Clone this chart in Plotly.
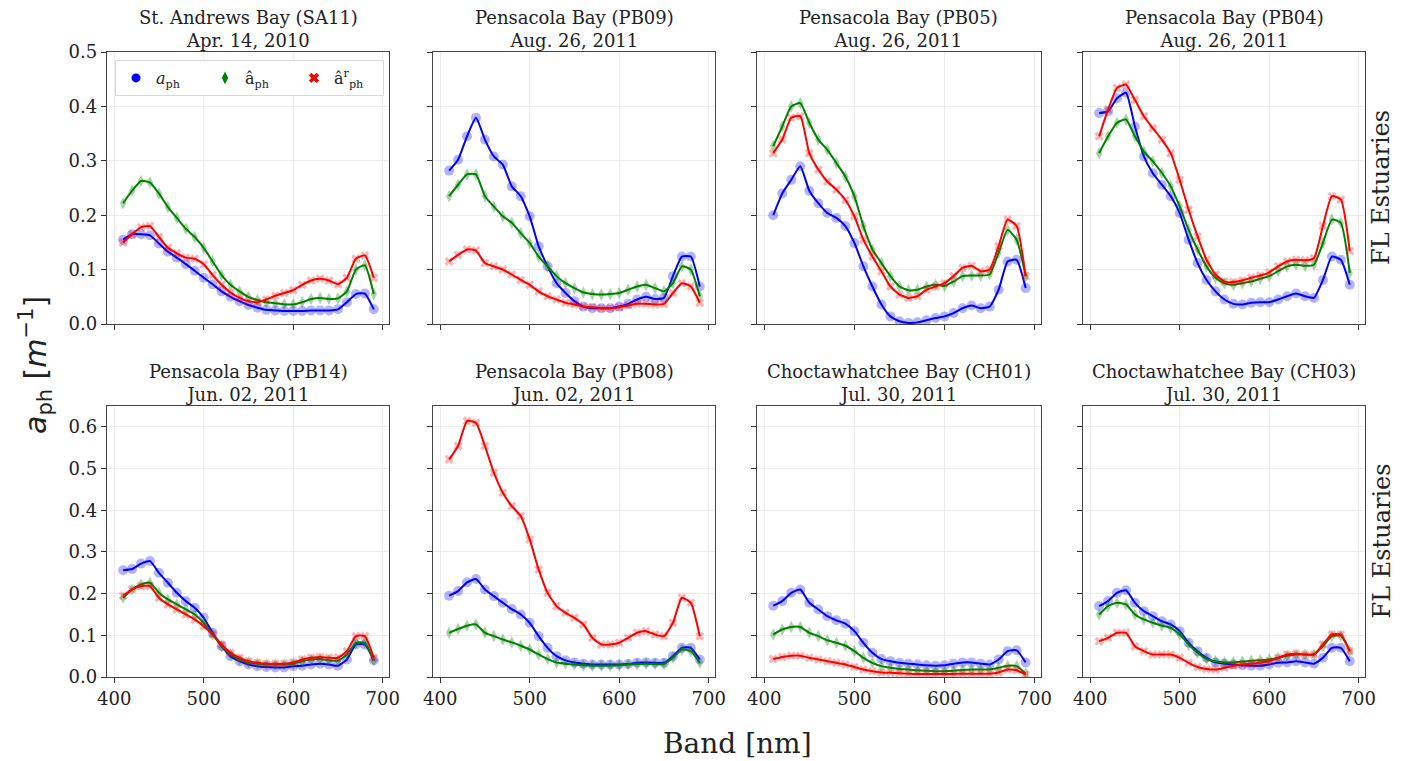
import plotly.graph_objects as go
from plotly.subplots import make_subplots

# Wavelength bands (nm)
bands = [410, 420, 430, 440, 450, 460, 470, 480, 490, 500, 510, 520, 530, 540, 550,
         560, 570, 580, 590, 600, 610, 620, 630, 640, 650, 660, 670, 680, 690]

# Panel titles
stations = ["St. Andrews Bay (SA11)", "Pensacola Bay (PB09)", "Pensacola Bay (PB05)", "Pensacola Bay (PB04)",
            "Pensacola Bay (PB14)", "Pensacola Bay (PB08)", "Choctawhatchee Bay (CH01)", "Choctawhatchee Bay (CH03)"]
dates = ["Apr. 14, 2010", "Aug. 26, 2011", "Aug. 26, 2011", "Aug. 26, 2011",
         "Jun. 02, 2011", "Jun. 02, 2011", "Jul. 30, 2011", "Jul. 30, 2011"]

# a_ph (measured), a_ph hat (estimated), a_ph hat r (retrieved) per station
sa11_aph = [.155, .165, .165, .163, .148, .133, .122, .110, .098, .085, .073, .060, .050, .042, .035,
            .030, .026, .025, .024, .024, .024, .025, .025, .025, .027, .040, .055, .056, .027]
sa11_hat = [.222, .245, .263, .260, .240, .215, .195, .175, .160, .140, .115, .090, .072, .060, .050,
            .044, .040, .038, .036, .036, .040, .046, .048, .046, .047, .060, .100, .108, .055]
sa11_hat_r = [.150, .165, .178, .180, .160, .140, .130, .122, .120, .110, .090, .072, .058, .048, .042,
              .040, .045, .052, .057, .062, .072, .080, .083, .080, .073, .085, .120, .126, .085]

pb09_aph = [.282, .302, .345, .379, .339, .308, .293, .253, .235, .198, .143, .106, .075, .057, .042,
            .032, .029, .029, .029, .032, .037, .045, .050, .046, .048, .088, .124, .124, .069]
pb09_hat = [.235, .256, .275, .275, .235, .216, .198, .186, .167, .149, .124, .106, .088, .075, .066,
            .058, .055, .054, .055, .057, .063, .069, .072, .066, .060, .075, .106, .100, .051]
pb09_hat_r = [.115, .127, .137, .135, .112, .106, .100, .091, .081, .072, .060, .051, .045, .039, .036,
              .032, .031, .029, .029, .031, .034, .037, .037, .036, .037, .057, .075, .069, .039]

pb05_aph = [.200, .240, .265, .290, .245, .222, .204, .195, .180, .149, .106, .069, .036, .014, .005,
            .002, .003, .007, .011, .014, .020, .029, .034, .029, .032, .063, .115, .118, .066]
pb05_hat = [.327, .363, .400, .406, .370, .339, .320, .296, .271, .235, .180, .137, .112, .088, .069,
            .062, .063, .069, .072, .070, .078, .088, .089, .089, .091, .131, .173, .155, .088]
pb05_hat_r = [.314, .339, .379, .382, .314, .284, .262, .247, .228, .198, .155, .124, .097, .069, .054,
              .048, .051, .063, .069, .075, .088, .103, .107, .097, .100, .143, .192, .180, .088]

pb04_aph = [.388, .391, .415, .425, .363, .308, .277, .256, .235, .204, .155, .112, .081, .060, .045,
            .037, .036, .039, .040, .040, .045, .051, .056, .051, .048, .081, .124, .118, .072]
pb04_hat = [.314, .345, .370, .376, .345, .317, .299, .278, .253, .216, .173, .137, .106, .085, .075,
            .072, .075, .078, .083, .088, .097, .106, .109, .107, .109, .149, .192, .186, .094]
pb04_hat_r = [.345, .394, .434, .440, .412, .382, .360, .339, .314, .265, .210, .161, .118, .091, .078,
              .077, .080, .085, .089, .095, .106, .115, .118, .117, .121, .180, .235, .229, .134]

pb14_aph = [.256, .259, .272, .278, .250, .226, .202, .182, .166, .142, .106, .074, .050, .038, .030,
            .026, .024, .023, .023, .026, .027, .030, .032, .030, .027, .042, .078, .078, .040]
pb14_hat = [.190, .210, .222, .226, .202, .186, .174, .162, .150, .130, .102, .074, .054, .042, .035,
            .032, .030, .030, .030, .032, .038, .042, .043, .040, .039, .054, .082, .082, .040]
pb14_hat_r = [.195, .210, .218, .218, .190, .174, .162, .150, .138, .122, .102, .078, .058, .046, .038,
              .034, .032, .032, .032, .035, .042, .046, .048, .046, .046, .062, .098, .098, .046]

pb08_aph = [.195, .206, .227, .235, .210, .194, .178, .163, .150, .130, .098, .070, .050, .040, .035,
            .032, .030, .030, .030, .030, .031, .034, .035, .034, .034, .050, .070, .070, .042]
pb08_hat = [.106, .115, .123, .126, .106, .098, .090, .083, .075, .066, .054, .043, .035, .032, .030,
            .028, .027, .027, .027, .028, .030, .031, .032, .031, .031, .046, .066, .062, .034]
pb08_hat_r = [.522, .554, .614, .610, .554, .490, .442, .410, .386, .330, .258, .202, .170, .154, .142,
              .126, .094, .078, .078, .082, .094, .106, .110, .102, .098, .130, .190, .178, .098]

ch01_aph = [.171, .182, .202, .210, .178, .162, .146, .136, .128, .110, .082, .058, .043, .038, .034,
            .032, .030, .028, .027, .028, .032, .035, .035, .032, .030, .042, .062, .064, .035]
ch01_hat = [.102, .114, .120, .120, .106, .098, .088, .082, .075, .062, .046, .034, .026, .022, .019,
            .018, .016, .015, .014, .014, .015, .017, .018, .018, .018, .022, .027, .026, .008]
ch01_hat_r = [.043, .048, .051, .051, .046, .042, .038, .034, .030, .024, .018, .014, .011, .010, .009,
              .008, .007, .007, .007, .007, .007, .008, .008, .008, .008, .011, .018, .016, .006]

ch03_aph = [.170, .182, .202, .208, .178, .158, .146, .134, .126, .110, .082, .062, .046, .035, .032,
            .030, .028, .027, .027, .030, .034, .035, .038, .035, .032, .046, .070, .070, .038]
ch03_hat = [.150, .170, .178, .174, .150, .138, .130, .123, .118, .102, .078, .058, .043, .038, .035,
            .035, .037, .039, .040, .042, .046, .051, .054, .054, .054, .074, .098, .099, .062]
ch03_hat_r = [.086, .094, .106, .106, .074, .062, .054, .054, .054, .046, .034, .024, .019, .018, .022,
              .027, .030, .032, .035, .038, .046, .054, .056, .054, .054, .078, .102, .102, .062]

panels = [
    (sa11_aph, sa11_hat, sa11_hat_r), (pb09_aph, pb09_hat, pb09_hat_r),
    (pb05_aph, pb05_hat, pb05_hat_r), (pb04_aph, pb04_hat, pb04_hat_r),
    (pb14_aph, pb14_hat, pb14_hat_r), (pb08_aph, pb08_hat, pb08_hat_r),
    (ch01_aph, ch01_hat, ch01_hat_r), (ch03_aph, ch03_hat, ch03_hat_r),
]

series_names = ["<i>a</i><sub>ph</sub>", "â<sub>ph</sub>", "â<sup>r</sup><sub>ph</sub>"]
series_colors = ["#0000ff", "#008000", "#ff0000"]
series_fill = ["rgba(0,0,255,0.3)", "rgba(0,128,0,0.35)", "rgba(255,0,0,0.3)"]
series_symbols = ["circle", "diamond-tall", "x"]
series_sizes = [10, 9, 8]

W, H = 1402, 761
col_px = [(107, 389), (433, 715), (757, 1041), (1083, 1365)]
row_px = [(52, 324), (406, 677)]
row_ranges = [[0, 0.5], [0, 0.65]]
serif = "DejaVu Serif"

fig = make_subplots(rows=2, cols=4)

for i, data in enumerate(panels):
    r, c = divmod(i, 4)
    for s in range(3):
        fig.add_trace(go.Scatter(
            x=bands, y=data[s], mode="lines+markers",
            line=dict(color=series_colors[s], width=2, shape="spline", smoothing=0.5),
            marker=dict(symbol=series_symbols[s], size=series_sizes[s], color=series_fill[s],
                        line=dict(width=0)),
            showlegend=False, hoverinfo="skip"), row=r + 1, col=c + 1)

# Legend entries (markers only)
for s in range(3):
    fig.add_trace(go.Scatter(
        x=[None], y=[None], mode="markers", name=series_names[s],
        marker=dict(symbol=series_symbols[s], size=9, color=series_colors[s], line=dict(width=0)),
        showlegend=True), row=1, col=1)

annotations = []
for i in range(8):
    r, c = divmod(i, 4)
    idx = "" if i == 0 else str(i + 1)
    x0, x1 = col_px[c]
    y0, y1 = row_px[r]
    fig.layout["xaxis" + idx].update(
        domain=[x0 / W, x1 / W], range=[392, 707], tickvals=[400, 500, 600, 700],
        showticklabels=(r == 1), ticks="outside", ticklen=5, tickwidth=1.2, tickcolor="#333",
        showline=True, linecolor="#444", linewidth=1.3, mirror=True, automargin=False,
        showgrid=True, gridcolor="#ececec", gridwidth=1, zeroline=False,
        tickfont=dict(family=serif, size=18, color="#222"))
    fig.layout["yaxis" + idx].update(
        domain=[1 - y1 / H, 1 - y0 / H], range=row_ranges[r], dtick=0.1, tickformat=".1f",
        showticklabels=(c == 0), ticks="outside", ticklen=5, tickwidth=1.2, tickcolor="#333",
        showline=True, linecolor="#444", linewidth=1.3, mirror=True, automargin=False,
        showgrid=True, gridcolor="#ececec", gridwidth=1, zeroline=False,
        tickfont=dict(family=serif, size=18, color="#222"))
    annotations.append(dict(
        text=stations[i] + "<br>" + dates[i], x=(x0 + x1) / 2 / W, y=1 - (y0 + 1) / H,
        xref="paper", yref="paper", xanchor="center", yanchor="bottom", showarrow=False,
        font=dict(family=serif, size=18, color="#222")))

for r in range(2):
    y0, y1 = row_px[r]
    annotations.append(dict(
        text="FL Estuaries", x=1381 / W, y=1 - (y0 + y1) / 2 / H, xref="paper", yref="paper",
        xanchor="center", yanchor="middle", textangle=-90, showarrow=False,
        font=dict(family=serif, size=24, color="#222")))

annotations.append(dict(
    text="Band [nm]", x=737 / W, y=1 - 743 / H, xref="paper", yref="paper",
    xanchor="center", yanchor="middle", showarrow=False,
    font=dict(family=serif, size=28, color="#222")))
annotations.append(dict(
    text="<i>a</i><sub>ph</sub> [<i>m</i><sup>−1</sup>]", x=35 / W, y=1 - 365 / H,
    xref="paper", yref="paper", xanchor="center", yanchor="middle", textangle=-90,
    showarrow=False, font=dict(family="DejaVu Sans", size=30, color="#222")))

fig.update_layout(
    width=W, height=H, margin=dict(l=0, r=0, t=0, b=0, autoexpand=False),
    paper_bgcolor="white", plot_bgcolor="white",
    annotations=annotations,
    legend=dict(orientation="h", x=115 / W, y=1 - 60 / H, xanchor="left", yanchor="top",
                bgcolor="white", bordercolor="#d8d8d8", borderwidth=1,
                entrywidth=44, entrywidthmode="pixels", itemwidth=30,
                font=dict(family=serif, size=16, color="#222")),
)

fig.write_html("out.html")
